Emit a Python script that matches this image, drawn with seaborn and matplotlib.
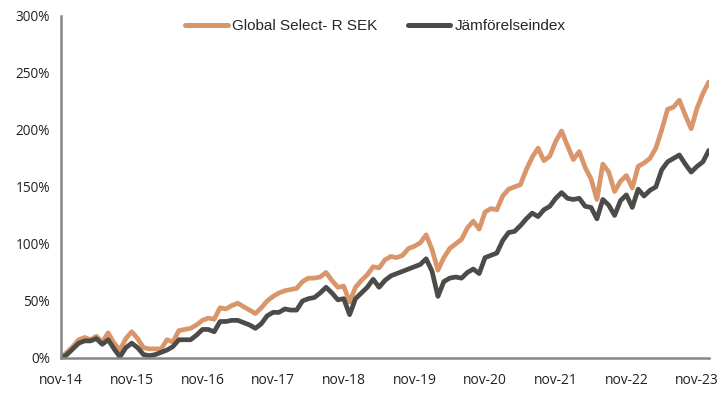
import numpy as np
import pandas as pd
import matplotlib
matplotlib.use("Agg")
import matplotlib.pyplot as plt
import seaborn as sns

tick_labels = ["nov-14", "nov-15", "nov-16", "nov-17", "nov-18",
               "nov-19", "nov-20", "nov-21", "nov-22", "nov-23"]

series_names = ["Global Select- R SEK", "Jämförelseindex"]

global_select = [0, 5, 10, 16, 18, 16, 19, 14, 22, 13, 7, 17, 23, 17, 9, 8, 8, 8, 16, 14,
                 24, 25, 26, 29, 33, 35, 34, 44, 43, 46, 48, 45, 42, 39, 44, 50, 54, 57, 59, 60,
                 61, 67, 70, 70, 71, 75, 68, 62, 63, 49, 62, 68, 73, 80, 79, 86, 89, 88, 90, 96,
                 98, 101, 108, 95, 77, 88, 96, 100, 104, 114, 120, 113, 128, 131, 130, 142, 148, 150, 152, 165,
                 176, 184, 173, 177, 190, 199, 186, 174, 181, 167, 157, 139, 170, 163, 146, 155, 160, 149, 168, 171,
                 175, 184, 200, 218, 220, 226, 213, 201, 219, 232, 242]

jamforelseindex = [0, 3, 8, 13, 15, 15, 17, 12, 16, 8, 1, 9, 13, 9, 3, 2, 3, 5, 7, 10,
                   16, 16, 16, 20, 25, 25, 23, 32, 32, 33, 33, 31, 29, 26, 30, 37, 40, 40, 43, 42,
                   42, 50, 52, 53, 57, 62, 57, 51, 52, 38, 52, 57, 62, 69, 62, 68, 72, 74, 76, 78,
                   80, 82, 87, 76, 54, 67, 70, 71, 70, 75, 78, 74, 88, 90, 92, 103, 110, 111, 116, 122,
                   127, 124, 130, 133, 140, 145, 140, 139, 140, 133, 132, 122, 139, 134, 125, 138, 143, 132, 148, 142,
                   147, 150, 165, 172, 175, 178, 170, 163, 168, 172, 182]

month_idx = np.arange(len(global_select))
df = pd.DataFrame({
    "month": np.concatenate([month_idx, month_idx]),
    "value": global_select + jamforelseindex,
    "series": [series_names[0]] * len(global_select) + [series_names[1]] * len(jamforelseindex),
})

sns.set_theme(style="white")
plt.rcParams['font.family'] = ['Open Sans', 'DejaVu Sans']

fig = plt.figure(figsize=(7.27, 3.96), dpi=100)
ax = fig.add_axes([0.084, 0.096, 0.891, 0.864])

palette = {series_names[0]: "#D9966B", series_names[1]: "#4B4B47"}
sns.lineplot(data=df, x="month", y="value", hue="series", palette=palette,
             linewidth=3.4, ax=ax, legend=True)
for line in ax.get_lines():
    line.set_solid_joinstyle("round")
    line.set_solid_capstyle("round")

ax.set_xlim(0, len(global_select) - 1)
ax.set_ylim(0, 300)
ax.set_xticks(np.arange(len(tick_labels)) * 12)
ax.set_xticklabels(tick_labels)
ax.set_yticks(np.arange(0, 301, 50))
ax.set_yticklabels([f"{v}%" for v in range(0, 301, 50)])
ax.set_xlabel("")
ax.set_ylabel("")

for s in ["top", "right"]:
    ax.spines[s].set_visible(False)
for s in ["left", "bottom"]:
    ax.spines[s].set_color("#868686")
    ax.spines[s].set_linewidth(1.8)
ax.tick_params(axis="both", which="both", length=5, width=1.5, color="#868686",
               labelsize=10, labelcolor="#222222", direction="out", pad=4)
ax.tick_params(axis="x", pad=6)
ax.tick_params(axis="y", labelsize=9.8, pad=3)

leg = ax.legend(loc="upper center", bbox_to_anchor=(0.485, 1.03), ncol=2, frameon=False,
                handlelength=2.8, columnspacing=2.0, handletextpad=0.25,
                prop={"family": "Liberation Sans", "size": 11})
for line in leg.get_lines():
    line.set_linewidth(3.6)

fig.savefig("out.png", dpi=100)
